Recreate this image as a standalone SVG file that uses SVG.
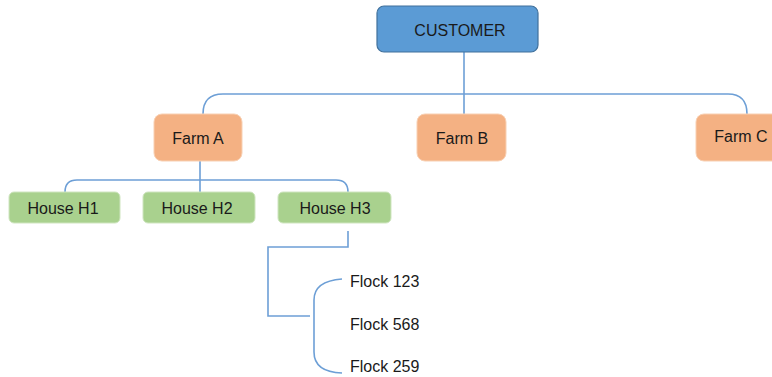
<svg xmlns="http://www.w3.org/2000/svg" width="772" height="377" viewBox="0 0 772 377">
<style>
text{font-family:"Liberation Sans",Arial,sans-serif;font-size:16px;fill:#1a1a1a;}
.c{text-anchor:middle;dominant-baseline:central;}
.f{dominant-baseline:central;}
.farm{fill:#f4b183;stroke:#f8d0b3;stroke-width:1;}
.house{fill:#a9d18e;stroke:#cfe5c0;stroke-width:1;}
.ln{fill:none;stroke:#6d9fd6;stroke-width:1.6;}
</style>
<rect width="772" height="377" fill="#ffffff"/>
<g id="connectors">
<path class="ln" d="M464 52 V114"/>
<path class="ln" d="M203 114 Q203 94 223 94 H728 Q747 94 747 114"/>
<path class="ln" d="M200 161 V193"/>
<path class="ln" d="M65 192 Q65 180 77 180 H336 Q348 180 348 192"/>
<path class="ln" d="M348 231 V247 H268 V316 H310"/>
<path class="ln" d="M342 279 Q314 281 314 300 V352 Q314 372 342 373"/>
</g>
<g id="customer">
<rect x="377" y="6" width="161" height="46" rx="7" fill="#5b9bd5" stroke="#41719c" stroke-width="1.2"/>
<text class="c" x="460" y="30">CUSTOMER</text>
</g>
<g id="farmA">
<rect class="farm" x="154" y="114" width="88" height="47" rx="8"/>
<text class="c" x="198" y="138">Farm A</text>
</g>
<g id="farmB">
<rect class="farm" x="417" y="114" width="89" height="47" rx="8"/>
<text class="c" x="462" y="138">Farm B</text>
</g>
<g id="farmC">
<rect class="farm" x="696" y="114" width="89" height="47" rx="8"/>
<text class="c" x="741" y="136">Farm C</text>
</g>
<g id="houseH1">
<rect class="house" x="9" y="192" width="111" height="31" rx="5"/>
<text class="c" x="63" y="208">House H1</text>
</g>
<g id="houseH2">
<rect class="house" x="143" y="192" width="112" height="31" rx="5"/>
<text class="c" x="197" y="208">House H2</text>
</g>
<g id="houseH3">
<rect class="house" x="278" y="192" width="113" height="31" rx="5"/>
<text class="c" x="335" y="208">House H3</text>
</g>
<g id="flock123"><text class="f" x="350" y="281">Flock 123</text></g>
<g id="flock568"><text class="f" x="350" y="324">Flock 568</text></g>
<g id="flock259"><text class="f" x="350" y="366">Flock 259</text></g>
</svg>
